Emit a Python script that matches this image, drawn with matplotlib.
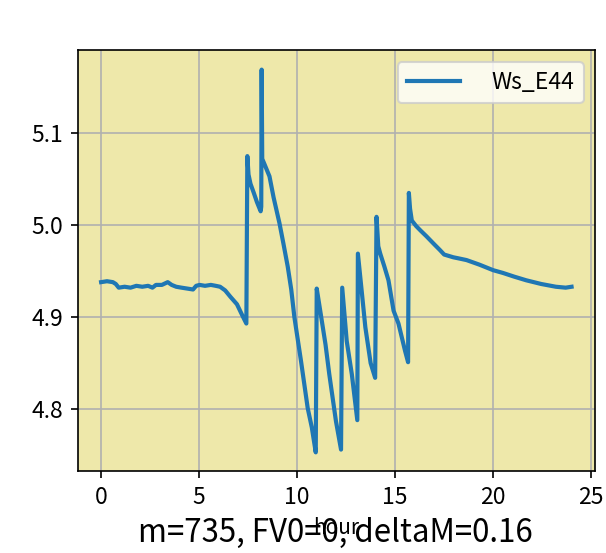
import numpy as np
from matplotlib import pyplot as plt

plt.rcParams['font.family'] = ['Noto Sans CJK SC', 'DejaVu Sans']

# values
hour = [0.0, 0.3, 0.6, 0.75, 0.9, 1.2, 1.5, 1.8, 2.1, 2.4, 2.62, 2.8, 3.1, 3.4, 3.6,
        3.83, 4.1, 4.4, 4.69, 4.85, 5.03, 5.3, 5.6, 5.85, 6.07, 6.33, 6.6, 6.93, 7.2, 7.41,
        7.46, 7.52, 7.62, 7.79, 7.95, 8.14, 8.17, 8.19, 8.22, 8.3, 8.59, 8.8, 9.1, 9.3,
        9.52, 9.7, 9.86, 10.2, 10.54, 10.75, 10.95,
        11.0, 11.2, 11.45, 11.64, 11.98, 12.24,
        12.3, 12.53, 12.79, 13.07,
        13.10, 13.31, 13.48, 13.75, 13.98,
        14.05, 14.14, 14.24, 14.45, 14.66, 14.92, 15.17, 15.51, 15.66,
        15.70, 15.76, 15.85, 16.07, 16.3, 16.59, 17.0, 17.28, 17.5, 17.97, 18.2, 18.64, 19.3,
        20.0, 20.5, 21.07, 21.69, 22.45, 23.2, 23.7, 24.0]
ws_e44 = [4.938, 4.939, 4.938, 4.936, 4.932, 4.933, 4.932, 4.934, 4.933, 4.934, 4.932, 4.935,
          4.935, 4.938, 4.935, 4.933, 4.932, 4.931, 4.930, 4.934, 4.935, 4.934, 4.935, 4.934,
          4.933, 4.929, 4.922, 4.914, 4.902, 4.893,
          5.075, 5.055, 5.045, 5.035, 5.025, 5.015, 5.020, 5.169, 5.072, 5.068, 5.053, 5.030,
          5.002, 4.980, 4.955, 4.930, 4.900, 4.852, 4.801, 4.780, 4.753,
          4.931, 4.904, 4.870, 4.838, 4.787, 4.756,
          4.932, 4.874, 4.838, 4.788,
          4.969, 4.925, 4.889, 4.850, 4.834,
          5.009, 4.977, 4.969, 4.955, 4.940, 4.907, 4.893, 4.863, 4.851,
          5.035, 5.018, 5.005, 4.999, 4.994, 4.988, 4.979, 4.973, 4.968, 4.965, 4.964, 4.962, 4.957,
          4.951, 4.948, 4.944, 4.940, 4.936, 4.933, 4.932, 4.933]

fig = plt.figure(figsize=(4.04, 3.6867), dpi=150)
ax = fig.add_axes([0.128, 0.1474, 0.854, 0.7613])
ax.set_facecolor('palegoldenrod')

ax.plot(hour, ws_e44, color='tab:blue', linewidth=2, label='Ws_E44')
ax.grid(True)
ax.set_axisbelow(True)
ax.set_yticks([4.8, 4.9, 5.0, 5.1])
ax.tick_params(labelsize=11)
ax.set_xlabel('hour')
ax.legend(fontsize=11, handlelength=2.3, handletextpad=1.4)

fig.text(0.5536, 0.0204, 'm=735, FV0=0, deltaM=0.16', fontsize=15,
         ha='center', va='baseline')

fig.savefig('out.png', dpi=150)
